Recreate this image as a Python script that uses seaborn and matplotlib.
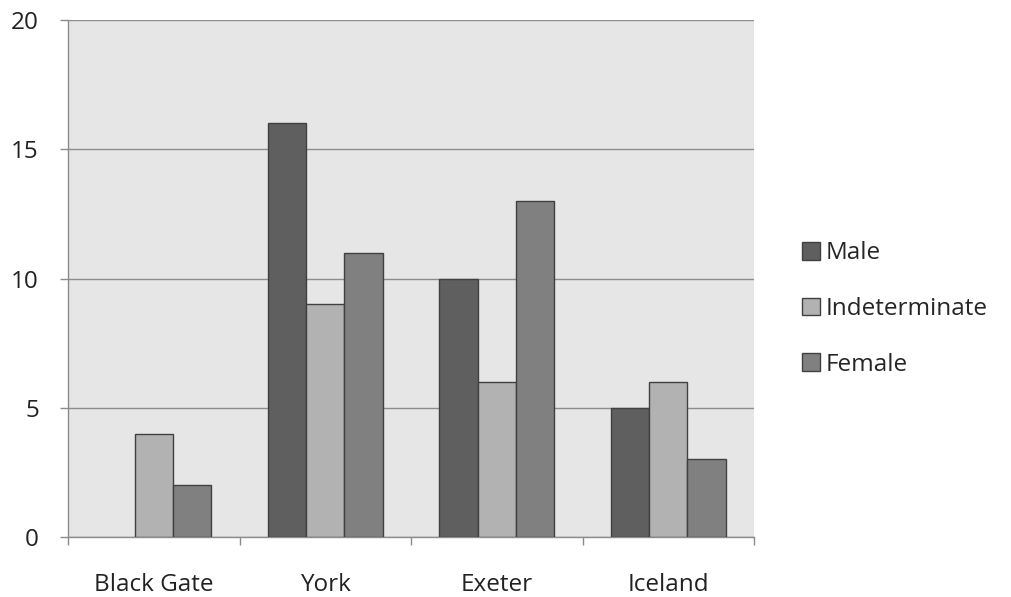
import matplotlib
matplotlib.use("Agg")
import matplotlib.pyplot as plt
import seaborn as sns
import pandas as pd
from matplotlib.ticker import FixedLocator

categories = ["Black Gate", "York", "Exeter", "Iceland"]
series_names = ["Male", "Indeterminate", "Female"]
male = [0, 16, 10, 5]
indeterminate = [4, 9, 6, 6]
female = [2, 11, 13, 3]
y_ticks = [0, 5, 10, 15, 20]

colors = ["#5F5F5F", "#B2B2B2", "#808080"]

rows = []
for name, vals in zip(series_names, [male, indeterminate, female]):
    for c, v in zip(categories, vals):
        rows.append({"Site": c, "Sex": name, "Count": v})
df = pd.DataFrame(rows)

sns.set_style("white")
plt.rcParams['font.family'] = ['Open Sans', 'DejaVu Sans']

fig = plt.figure(figsize=(10.11, 5.97), dpi=100)
ax = fig.add_axes([68/1011, 1 - 537/597, (754-68)/1011, (537-20)/597])
ax.set_facecolor("#E6E6E6")

sns.barplot(data=df, x="Site", y="Count", hue="Sex", order=categories,
            hue_order=series_names, palette=colors, width=0.67, gap=0,
            edgecolor="#404040", linewidth=1.0, saturation=1, ax=ax, zorder=3)

# hide zero-height bars (no visible mark in the reference)
for cont in ax.containers:
    for p in cont:
        if p.get_height() == 0:
            p.set_visible(False)

ax.set_xlim(-0.5, 3.5)
ax.set_ylim(0, 20)
ax.set_yticks(y_ticks)
ax.yaxis.grid(True, color="#8C8C8C", linewidth=1.0, zorder=0)
ax.set_axisbelow(True)
ax.set_xlabel("")
ax.set_ylabel("")

for s in ["top", "right"]:
    ax.spines[s].set_visible(False)
for s in ["left", "bottom"]:
    ax.spines[s].set_color("#8C8C8C")
    ax.spines[s].set_linewidth(1.0)

ax.tick_params(axis="x", which="major", bottom=True, length=0, pad=26, labelsize=17.5, labelcolor="#222222")
ax.xaxis.set_minor_locator(FixedLocator([-0.5, 0.5, 1.5, 2.5, 3.5]))
ax.tick_params(axis="x", which="minor", bottom=True, length=6, width=1, color="#8C8C8C", direction="out")
ax.tick_params(axis="y", which="major", left=True, length=6, width=1, color="#8C8C8C", direction="out",
               pad=15, labelsize=17.5, labelcolor="#222222")

handles, labels = ax.get_legend_handles_labels()
ax.legend(handles, labels, loc="center left", bbox_to_anchor=(802/1011, 1 - 309/597),
          bbox_transform=fig.transFigure, frameon=False, fontsize=17.5,
          handlelength=0.72, handleheight=0.72, handletextpad=0.25, labelspacing=1.3,
          borderaxespad=0, borderpad=0)

fig.savefig("out.png", dpi=100, facecolor="white")
